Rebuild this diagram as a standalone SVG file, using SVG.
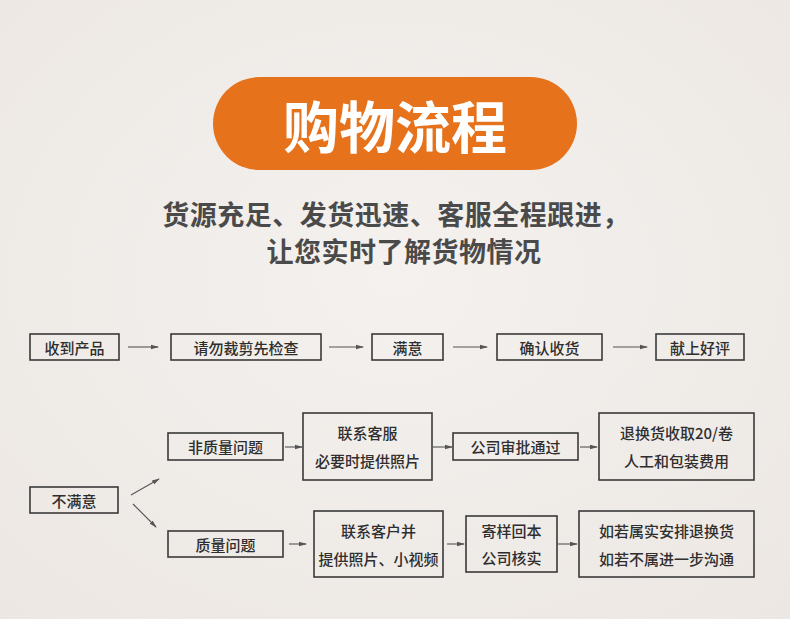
<svg xmlns="http://www.w3.org/2000/svg" width="790" height="619" viewBox="0 0 790 619">
<defs>
<marker id="ah" markerWidth="8" markerHeight="6" refX="7" refY="3" orient="auto" markerUnits="userSpaceOnUse">
<path d="M0,0.8 L8,3 L0,5.2 Z" fill="#555"/>
</marker>
<radialGradient id="bg" cx="50%" cy="45%" r="75%">
<stop offset="0" stop-color="#f4f1ee"/>
<stop offset="1" stop-color="#ece7e3"/>
</radialGradient>
</defs>
<style>
.box{fill:none;stroke:#3a3a3a;stroke-width:1.6}
.t{font-family:"Noto Sans CJK SC","Liberation Sans",sans-serif;font-size:15px;fill:#2e2e2e;text-anchor:middle;dominant-baseline:central;font-weight:500}
.c{stroke:#555;stroke-width:1.1;fill:none;marker-end:url(#ah)}
.sub{font-family:"Noto Sans CJK SC",sans-serif;font-size:27px;fill:#4a4a4a;text-anchor:middle;dominant-baseline:central;font-weight:700;letter-spacing:0.5px}
</style>
<rect width="790" height="619" fill="url(#bg)"/>
<g id="title">
<rect x="213" y="77" width="364" height="93" rx="46.5" fill="#e6721b"/>
<text x="395" y="123" font-family="'Noto Sans CJK SC',sans-serif" font-size="56" font-weight="700" fill="#fff" text-anchor="middle" dominant-baseline="central">购物流程</text>
</g>
<g id="subtitle">
<text class="sub" x="396" y="213">货源充足、发货迅速、客服全程跟进，</text>
<text class="sub" x="404" y="250">让您实时了解货物情况</text>
</g>
<g id="n1"><rect class="box" x="30" y="334" width="89" height="26"/><text class="t" x="74.5" y="347">收到产品</text></g>
<g id="n2"><rect class="box" x="171" y="334" width="150" height="26"/><text class="t" x="246" y="347">请勿裁剪先检查</text></g>
<g id="n3"><rect class="box" x="372" y="334" width="71" height="26"/><text class="t" x="407.5" y="347">满意</text></g>
<g id="n4"><rect class="box" x="497" y="334" width="105" height="26"/><text class="t" x="549.5" y="347">确认收货</text></g>
<g id="n5"><rect class="box" x="656" y="334" width="88" height="26"/><text class="t" x="700" y="347">献上好评</text></g>
<g id="n6"><rect class="box" x="30" y="487" width="88" height="26"/><text class="t" x="74" y="500">不满意</text></g>
<g id="n7"><rect class="box" x="168" y="433" width="115" height="27"/><text class="t" x="225.5" y="446.5">非质量问题</text></g>
<g id="n8"><rect class="box" x="303" y="413" width="129" height="67"/><text class="t" x="367.5" y="432">联系客服</text><text class="t" x="367.5" y="460">必要时提供照片</text></g>
<g id="n9"><rect class="box" x="453" y="433" width="125" height="27"/><text class="t" x="515.5" y="446.5">公司审批通过</text></g>
<g id="n10"><rect class="box" x="599" y="413" width="155" height="67"/><text class="t" x="676.5" y="432">退换货收取20/卷</text><text class="t" x="676.5" y="460">人工和包装费用</text></g>
<g id="n11"><rect class="box" x="168" y="531" width="115" height="26"/><text class="t" x="225.5" y="544">质量问题</text></g>
<g id="n12"><rect class="box" x="314" y="511" width="129" height="66"/><text class="t" x="378.5" y="530">联系客户并</text><text class="t" x="378.5" y="558">提供照片、小视频</text></g>
<g id="n13"><rect class="box" x="466" y="516" width="91" height="56"/><text class="t" x="511.5" y="530">寄样回本</text><text class="t" x="511.5" y="557">公司核实</text></g>
<g id="n14"><rect class="box" x="579" y="511" width="175" height="66"/><text class="t" x="666.5" y="530">如若属实安排退换货</text><text class="t" x="666.5" y="558">如若不属进一步沟通</text></g>
<g id="connectors">
<line class="c" x1="128" y1="347" x2="158" y2="347"/>
<line class="c" x1="329" y1="347" x2="363" y2="347"/>
<line class="c" x1="453" y1="347" x2="487" y2="347"/>
<line class="c" x1="613" y1="347" x2="647" y2="347"/>
<line class="c" x1="131" y1="495" x2="159" y2="479"/>
<line class="c" x1="133" y1="504" x2="156" y2="527"/>
<line class="c" x1="285" y1="447" x2="302" y2="447"/>
<line class="c" x1="433" y1="447" x2="452" y2="447"/>
<line class="c" x1="580" y1="447" x2="597" y2="447"/>
<line class="c" x1="289" y1="544" x2="306" y2="544"/>
<line class="c" x1="447" y1="544" x2="464" y2="544"/>
<line class="c" x1="558" y1="544" x2="577" y2="544"/>
</g>
</svg>
